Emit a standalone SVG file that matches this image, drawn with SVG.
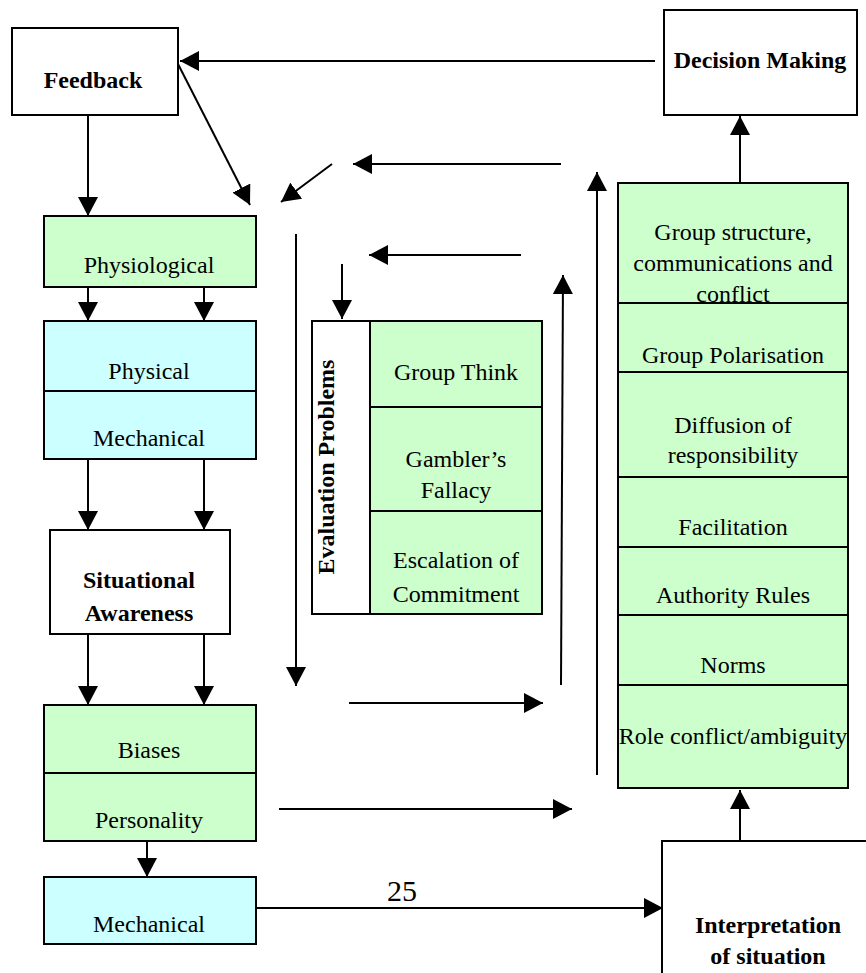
<svg xmlns="http://www.w3.org/2000/svg" width="866" height="973" viewBox="0 0 866 973">
<style>
.box{stroke:#000;stroke-width:2}
.w{fill:#fff}.g{fill:#ccffcc}.c{fill:#ccffff}
.div{stroke:#000;stroke-width:2}
text{font-family:"Liberation Serif","Times New Roman",serif;font-size:24px;fill:#000;text-anchor:middle}
.b{font-weight:bold}
.ln{stroke:#000;stroke-width:2;fill:none}
</style>
<defs>
<marker id="ah" markerUnits="userSpaceOnUse" markerWidth="20" markerHeight="20" refX="19" refY="10" orient="auto">
<path d="M0,0 L19,10 L0,20 Z" fill="#000"/>
</marker>
</defs>
<rect width="866" height="973" fill="#fff"/>

<g id="connectors">
<line class="ln" x1="655" y1="61" x2="180" y2="61" marker-end="url(#ah)"/>
<line class="ln" x1="88" y1="115" x2="88" y2="216" marker-end="url(#ah)"/>
<line class="ln" x1="178" y1="64" x2="250" y2="205" marker-end="url(#ah)"/>
<line class="ln" x1="332" y1="164" x2="281" y2="202" marker-end="url(#ah)"/>
<line class="ln" x1="561" y1="164" x2="353" y2="164" marker-end="url(#ah)"/>
<line class="ln" x1="521" y1="255" x2="369" y2="255" marker-end="url(#ah)"/>
<line class="ln" x1="342" y1="264" x2="342" y2="319" marker-end="url(#ah)"/>
<line class="ln" x1="296" y1="234" x2="296" y2="686" marker-end="url(#ah)"/>
<line class="ln" x1="597" y1="775" x2="597" y2="172" marker-end="url(#ah)"/>
<line class="ln" x1="561" y1="685" x2="563" y2="275" marker-end="url(#ah)"/>
<line class="ln" x1="88" y1="287" x2="88" y2="321" marker-end="url(#ah)"/>
<line class="ln" x1="204" y1="287" x2="204" y2="321" marker-end="url(#ah)"/>
<line class="ln" x1="88" y1="459" x2="88" y2="530" marker-end="url(#ah)"/>
<line class="ln" x1="204" y1="459" x2="204" y2="530" marker-end="url(#ah)"/>
<line class="ln" x1="88" y1="634" x2="88" y2="705" marker-end="url(#ah)"/>
<line class="ln" x1="204" y1="634" x2="204" y2="705" marker-end="url(#ah)"/>
<line class="ln" x1="147" y1="841" x2="147" y2="877" marker-end="url(#ah)"/>
<line class="ln" x1="349" y1="703" x2="543" y2="703" marker-end="url(#ah)"/>
<line class="ln" x1="279" y1="809" x2="572" y2="809" marker-end="url(#ah)"/>
<line class="ln" x1="257" y1="908" x2="663" y2="908" marker-end="url(#ah)"/>
<line class="ln" x1="740" y1="841" x2="740" y2="790" marker-end="url(#ah)"/>
<line class="ln" x1="740" y1="183" x2="740" y2="116" marker-end="url(#ah)"/>
<text x="402" y="901" style="font-size:30px">25</text>
</g>

<g id="feedback">
<rect class="box w" x="12" y="28" width="166" height="87"/>
<text class="b" x="93" y="88">Feedback</text>
</g>

<g id="decision-making">
<rect class="box w" x="664" y="10" width="193" height="105"/>
<text class="b" x="760" y="68">Decision Making</text>
</g>

<g id="physiological">
<rect class="box g" x="44" y="216" width="212" height="71"/>
<text x="149" y="273">Physiological</text>
</g>

<g id="physical-mechanical">
<rect class="box c" x="44" y="321" width="212" height="138"/>
<line class="div" x1="44" y1="391" x2="256" y2="391"/>
<text x="149" y="379">Physical</text>
<text x="149" y="446">Mechanical</text>
</g>

<g id="situational-awareness">
<rect class="box w" x="50" y="530" width="180" height="104"/>
<text class="b" x="139" y="588">Situational</text>
<text class="b" x="139" y="621">Awareness</text>
</g>

<g id="biases-personality">
<rect class="box g" x="44" y="705" width="212" height="136"/>
<line class="div" x1="44" y1="773" x2="256" y2="773"/>
<text x="149" y="758">Biases</text>
<text x="149" y="828">Personality</text>
</g>

<g id="mechanical">
<rect class="box c" x="44" y="877" width="212" height="67"/>
<text x="149" y="932">Mechanical</text>
</g>

<g id="evaluation-problems">
<rect class="box w" x="312" y="321" width="230" height="293"/>
<rect class="box g" x="370" y="321" width="172" height="293"/>
<line class="div" x1="370" y1="407" x2="542" y2="407"/>
<line class="div" x1="370" y1="511" x2="542" y2="511"/>
<text class="b" transform="translate(334,467) rotate(-90)" x="0" y="0">Evaluation Problems</text>
<text x="456" y="380">Group Think</text>
<text x="456" y="467">Gambler’s</text>
<text x="456" y="498">Fallacy</text>
<text x="456" y="568">Escalation of</text>
<text x="456" y="602">Commitment</text>
</g>

<g id="group-factors">
<rect class="box g" x="618" y="183" width="230" height="605"/>
<text x="733" y="240">Group structure,</text>
<text x="733" y="271">communications and</text>
<text x="733" y="302">conflict</text>
<line class="div" x1="618" y1="303" x2="848" y2="303"/>
<line class="div" x1="618" y1="372" x2="848" y2="372"/>
<line class="div" x1="618" y1="477" x2="848" y2="477"/>
<line class="div" x1="618" y1="547" x2="848" y2="547"/>
<line class="div" x1="618" y1="615" x2="848" y2="615"/>
<line class="div" x1="618" y1="685" x2="848" y2="685"/>
<text x="733" y="363">Group Polarisation</text>
<text x="733" y="433">Diffusion of</text>
<text x="733" y="463">responsibility</text>
<text x="733" y="535">Facilitation</text>
<text x="733" y="603">Authority Rules</text>
<text x="733" y="673">Norms</text>
<text x="733" y="744">Role conflict/ambiguity</text>
</g>

<g id="interpretation">
<rect class="box w" x="662" y="841" width="230" height="160"/>
<text class="b" x="768" y="933">Interpretation</text>
<text class="b" x="768" y="964">of situation</text>
</g>
</svg>
